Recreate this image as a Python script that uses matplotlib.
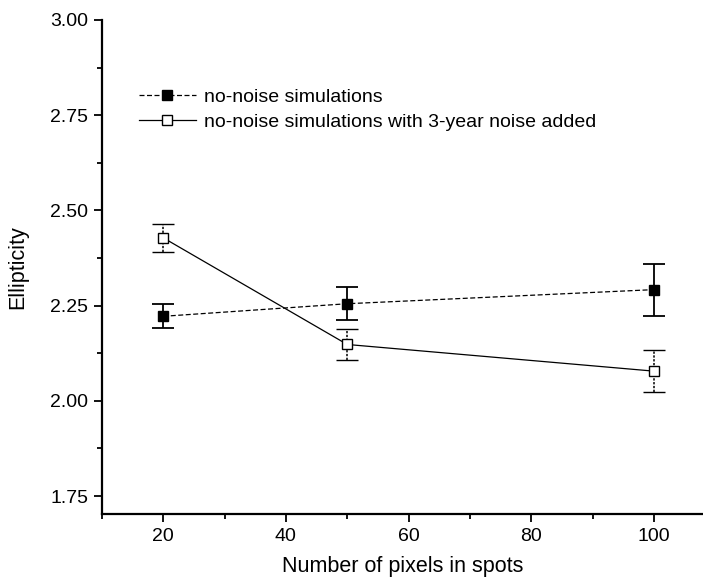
import numpy as np
import matplotlib
matplotlib.use("Agg")
import matplotlib.pyplot as plt
from matplotlib.ticker import MultipleLocator
from matplotlib.lines import Line2D

plt.rcParams['font.family'] = ['Liberation Sans', 'DejaVu Sans']

# data
pixels = [20, 50, 100]
no_noise = [2.222, 2.255, 2.292]
no_noise_err = [0.031, 0.044, 0.068]
with_noise = [2.428, 2.148, 2.078]
with_noise_err = [0.037, 0.040, 0.055]

labels = ["no-noise simulations",
          "no-noise simulations with 3-year noise added"]

fig = plt.figure(figsize=(7.03, 5.87), dpi=100)
ax = fig.add_axes([0.145, 0.1244, 0.855, 0.8416])

ax.errorbar(pixels, no_noise, yerr=no_noise_err, fmt='s', ls=(0, (4, 2)),
            color='black', lw=0.9, ms=7, mfc='black', mec='black',
            capsize=8, capthick=1.3, elinewidth=1.3)
eb = ax.errorbar(pixels, with_noise, yerr=with_noise_err, fmt='s', ls='-',
                 color='black', lw=0.9, ms=7, mfc='white', mec='black',
                 mew=1.0, capsize=8, capthick=1.3, elinewidth=1.1)
for c in eb[2]:
    c.set_linestyle((0, (1.5, 1)))

ax.set_xlim(10, 108)
ax.set_ylim(1.703, 3.0)
ax.set_xticks([20, 40, 60, 80, 100])
ax.set_yticks([1.75, 2.00, 2.25, 2.50, 2.75, 3.00])
ax.set_yticklabels(["1.75", "2.00", "2.25", "2.50", "2.75", "3.00"])
ax.xaxis.set_minor_locator(MultipleLocator(10))
ax.yaxis.set_minor_locator(MultipleLocator(0.125))

for s in ['top', 'right']:
    ax.spines[s].set_visible(False)
for s in ['left', 'bottom']:
    ax.spines[s].set_linewidth(1.6)

ax.tick_params(which='major', direction='out', length=6, width=1.3,
               labelsize=14, pad=4)
ax.tick_params(which='minor', direction='out', length=3.5, width=1.3)

ax.set_xlabel("Number of pixels in spots", fontsize=15.5, labelpad=8)
ax.set_ylabel("Ellipticity", fontsize=15.5, labelpad=16)

handles = [
    Line2D([], [], color='black', ls=(0, (4, 2)), lw=0.9, marker='s', ms=7,
           mfc='black', mec='black'),
    Line2D([], [], color='black', ls='-', lw=0.9, marker='s', ms=7,
           mfc='white', mec='black', mew=1.0),
]
ax.legend(handles, labels, loc='upper left', bbox_to_anchor=(0.062, 0.862),
          frameon=False, fontsize=14, handlelength=2.9, handletextpad=0.45,
          labelspacing=0.4, borderaxespad=0, borderpad=0)

fig.savefig("out.png", dpi=100)
